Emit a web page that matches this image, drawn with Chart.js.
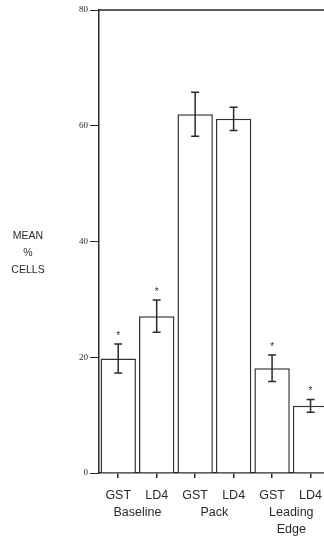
<!DOCTYPE html>
<html>
<head>
<meta charset="utf-8">
<script src="https://cdn.jsdelivr.net/npm/chart.js@4/dist/chart.umd.min.js"></script>
<style>
  html, body { margin: 0; padding: 0; background: #fff; overflow: hidden; }
  #wrap { width: 324px; height: 537px; overflow: hidden; }
</style>
</head>
<body>
<div id="wrap"><canvas id="chart" width="332" height="537"></canvas></div>
<script>
const categories = ['GST', 'LD4', 'GST', 'LD4', 'GST', 'LD4']
const groups = [['Baseline'], ['Pack'], ['Leading', 'Edge']]
const means = [19.8, 27.1, 62.0, 61.2, 18.1, 11.6]
const sem = [2.5, 2.8, 3.8, 2.0, 2.3, 1.1]
const starred = [true, true, false, false, true, true]
const yTicks = [0, 20, 40, 60, 80]

const ink = '#2a2a2a'

// error bars, asterisks, group labels, y title and the top frame line
const extras = {
  id: 'extras',
  afterDatasetsDraw(chart) {
    const ctx = chart.ctx
    const x = chart.scales.x, y = chart.scales.y
    const area = chart.chartArea
    ctx.save()
    ctx.strokeStyle = ink
    ctx.fillStyle = ink
    ctx.lineWidth = 1.5

    // top frame line
    ctx.beginPath()
    ctx.moveTo(area.left, area.top)
    ctx.lineTo(area.right, area.top)
    ctx.stroke()

    means.forEach((m, i) => {
      const cx = x.getPixelForValue(i)
      const hi = y.getPixelForValue(m + sem[i])
      const lo = y.getPixelForValue(m - sem[i])
      ctx.beginPath()
      ctx.moveTo(cx, hi); ctx.lineTo(cx, lo)
      ctx.moveTo(cx - 4, hi); ctx.lineTo(cx + 4, hi)
      ctx.moveTo(cx - 4, lo); ctx.lineTo(cx + 4, lo)
      ctx.stroke()
      if (starred[i]) {
        ctx.font = '10px "Liberation Sans"'
        ctx.textAlign = 'center'
        ctx.textBaseline = 'middle'
        ctx.fillText('*', cx, hi - 8)
      }
    })

    ctx.font = '12.5px "Liberation Sans"'
    ctx.textAlign = 'center'
    ctx.textBaseline = 'middle'
    groups.forEach((g, k) => {
      const cx = (x.getPixelForValue(2 * k) + x.getPixelForValue(2 * k + 1)) / 2
      g.forEach((line, j) => ctx.fillText(line, cx, 513 + j * 17))
    })

    ctx.font = '10.5px "Liberation Sans"'
    ;['MEAN', '%', 'CELLS'].forEach((t, j) => ctx.fillText(t, 28, 236 + j * 17))
    ctx.restore()
  }
}

new Chart(document.getElementById('chart'), {
  type: 'bar',
  data: {
    labels: categories,
    datasets: [{
      data: means,
      backgroundColor: '#fff',
      borderColor: '#333',
      borderWidth: 1.5,
      barPercentage: 0.92,
      categoryPercentage: 1
    }]
  },
  options: {
    responsive: false,
    animation: false,
    devicePixelRatio: 1,
    layout: { padding: { top: 10, left: 0, right: 0, bottom: 0 } },
    plugins: { legend: { display: false }, tooltip: { enabled: false } },
    scales: {
      x: {
        afterFit: s => { s.height = 64 },
        grid: { offset: false, drawOnChartArea: false, tickLength: 5, color: ink, lineWidth: 1.5 },
        border: { color: ink, width: 1.5 },
        ticks: { color: ink, padding: 10, font: { family: 'Liberation Sans', size: 12.5 }, maxRotation: 0 }
      },
      y: {
        min: 0,
        max: 80,
        afterFit: s => { s.width = 99 },
        afterBuildTicks: s => { s.ticks = yTicks.map(v => ({ value: v })) },
        grid: { drawOnChartArea: false, tickLength: 9, color: ink, lineWidth: 1 },
        border: { color: ink, width: 1.5 },
        ticks: { color: ink, padding: 2, font: { family: 'Liberation Serif', size: 9 } }
      }
    }
  },
  plugins: [extras]
})
</script>
</body>
</html>
